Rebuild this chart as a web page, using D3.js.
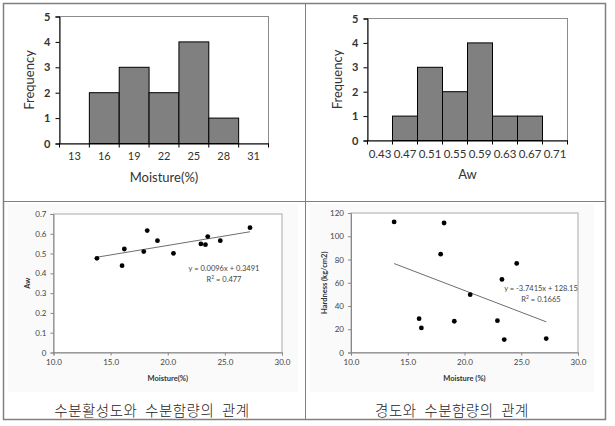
<!DOCTYPE html>
<html><head><meta charset="utf-8">
<script src="https://cdn.jsdelivr.net/npm/d3@7"></script>
<style>
html,body{margin:0;padding:0;background:#fff;}
svg{display:block;}
</style></head>
<body>
<svg id="c" width="615" height="426"></svg>
<script>
// ---------- data ----------
const moistureBins = ["13","16","19","22","25","28","31"];
const moistureFreq = [0,2,3,2,4,1,0];
const awBins = ["0.43","0.47","0.51","0.55","0.59","0.63","0.67","0.71"];
const awFreq = [0,1,3,2,4,1,1,0];
const freqTicks = [0,1,2,3,4,5];

const moisture = [13.8,16.0,16.2,17.9,18.2,19.1,20.5,22.9,23.3,23.5,24.6,27.2];
const aw       = [0.476,0.439,0.523,0.510,0.616,0.565,0.501,0.549,0.545,0.586,0.565,0.631];
const hardness = [112.3,29.1,21.1,84.6,111.4,26.9,49.7,27.4,62.9,11.1,76.6,12.0];
const moistureTicks = [10,15,20,25,30];
const awTicks = [0,0.1,0.2,0.3,0.4,0.5,0.6,0.7];
const hardTicks = [0,20,40,60,80,100,120];
const awFit = [0.0096, 0.3491];      // slope, intercept
const hardFit = [-3.7415, 128.15];
const awFitText = ["y = 0.0096x + 0.3491", "0.477"];
const hardFitText = ["y = -3.7415x + 128.15", "0.1665"];
const captions = ["수분활성도와 수분함량의 관계", "경도와 수분함량의 관계"];

const svg = d3.select("#c");
const LATIN = "Lato, 'Open Sans', 'Liberation Sans', sans-serif";

// ---------- table grid ----------
svg.append("rect").attr("x",8).attr("y",204).attr("width",290).attr("height",188).attr("fill","#fafafa");
svg.append("rect").attr("x",310).attr("y",204).attr("width",284).attr("height",188).attr("fill","#fafafa");
const grid = svg.append("g").attr("stroke","#808080").attr("fill","none");
grid.append("rect").attr("x",3.5).attr("y",3.5).attr("width",602).attr("height",416).attr("stroke-width",1.5);
grid.append("line").attr("x1",305.5).attr("x2",305.5).attr("y1",3).attr("y2",419);
grid.append("line").attr("x1",3).attr("x2",605).attr("y1",201.5).attr("y2",201.5);

// ---------- histogram ----------
function histogram(cats, vals, box, xTitle, labelSize) {
  const g = svg.append("g");
  const x = d3.scaleBand().domain(cats).range([box.x0, box.x1]).padding(0);
  const y = d3.scaleLinear().domain([0,5]).range([box.y1, box.y0]);
  g.append("rect").attr("x",box.x0).attr("y",box.y0).attr("width",box.x1-box.x0).attr("height",box.y1-box.y0)
    .attr("fill","none").attr("stroke","#8c8c8c").attr("stroke-width",1);
  g.selectAll("rect.bar").data(cats.map((c,i)=>({c,v:vals[i]})).filter(d=>d.v>0)).join("rect")
    .attr("class","bar")
    .attr("x",d=>x(d.c)).attr("width",x.bandwidth())
    .attr("y",d=>y(d.v)).attr("height",d=>y(0)-y(d.v))
    .attr("fill","#808080").attr("stroke","#000").attr("stroke-width",1);
  const ya = g.append("g").attr("transform",`translate(${box.x0},0)`)
    .call(d3.axisLeft(y).tickValues(freqTicks).tickFormat(d3.format("d")).tickSize(4).tickPadding(5));
  ya.select(".domain").attr("stroke","#000");
  ya.selectAll("text").attr("font-family",LATIN).attr("font-size",11).attr("font-weight","bold").attr("fill","#333");
  const xa = g.append("g").attr("transform",`translate(0,${box.y1})`)
    .call(d3.axisBottom(x).tickSize(0).tickPadding(9));
  xa.select(".domain").attr("stroke","#000");
  xa.selectAll("text").attr("font-family",LATIN).attr("font-size",labelSize).attr("fill","#333");
  const bounds = cats.map(c=>x(c)).concat([box.x1]);
  g.selectAll("line.bt").data(bounds).join("line").attr("class","bt")
    .attr("x1",d=>d).attr("x2",d=>d).attr("y1",box.y1).attr("y2",box.y1+4).attr("stroke","#000");
  g.append("text").attr("transform",`translate(${box.x0-26},${(box.y0+box.y1)/2}) rotate(-90)`)
    .attr("text-anchor","middle").attr("font-family",LATIN).attr("font-size",13).attr("fill","#333").text("Frequency");
  g.append("text").attr("x",(box.x0+box.x1)/2).attr("y",box.y1+38)
    .attr("text-anchor","middle").attr("font-family",LATIN).attr("font-size",13).attr("fill","#333").text(xTitle);
}
histogram(moistureBins, moistureFreq, {x0:59.5,x1:268.5,y0:16.5,y1:143.5}, "Moisture(%)", 11);
histogram(awBins, awFreq, {x0:367.5,x1:567.5,y0:18.5,y1:140.5}, "Aw", 11.5);

// ---------- scatter ----------
function scatter(xs, ys, box, yDomain, yTicks, yFmt, yTitle, xTitle, fit, fitText, eqPos) {
  const g = svg.append("g");
  const x = d3.scaleLinear().domain([10,30]).range([box.x0, box.x1]);
  const y = d3.scaleLinear().domain(yDomain).range([box.y1, box.y0]);
  g.append("rect").attr("x",box.x0).attr("y",box.y0).attr("width",box.x1-box.x0).attr("height",box.y1-box.y0)
    .attr("fill","#fff").attr("stroke","#aaa").attr("stroke-width",1);
  const ya = g.append("g").attr("transform",`translate(${box.x0},0)`)
    .call(d3.axisLeft(y).tickValues(yTicks).tickFormat(yFmt).tickSize(3).tickPadding(4));
  ya.select(".domain").attr("stroke","#888");
  ya.selectAll("line").attr("stroke","#888");
  ya.selectAll("text").attr("font-family",LATIN).attr("font-size",8).attr("fill","#444");
  const xa = g.append("g").attr("transform",`translate(0,${box.y1})`)
    .call(d3.axisBottom(x).tickValues(moistureTicks).tickFormat(d3.format(".1f")).tickSize(3).tickPadding(4));
  xa.select(".domain").attr("stroke","#888");
  xa.selectAll("line").attr("stroke","#888");
  xa.selectAll("text").attr("font-family",LATIN).attr("font-size",8).attr("fill","#444");
  const xMin = d3.min(xs), xMax = d3.max(xs);
  g.append("line").attr("x1",x(xMin)).attr("y1",y(fit[0]*xMin+fit[1]))
    .attr("x2",x(xMax)).attr("y2",y(fit[0]*xMax+fit[1]))
    .attr("stroke","#6e6e6e").attr("stroke-width",1);
  g.selectAll("circle").data(xs.map((v,i)=>[v,ys[i]])).join("circle")
    .attr("cx",d=>x(d[0])).attr("cy",d=>y(d[1])).attr("r",2.4).attr("fill","#000");
  g.append("text").attr("x",eqPos[0]).attr("y",eqPos[1]).attr("text-anchor","middle")
    .attr("font-family",LATIN).attr("font-size",7.5).attr("fill","#444").text(fitText[0]);
  const r = g.append("text").attr("x",eqPos[0]).attr("y",eqPos[1]+11).attr("text-anchor","middle")
    .attr("font-family",LATIN).attr("font-size",7.5).attr("fill","#444");
  r.append("tspan").text("R");
  r.append("tspan").attr("dy",-3).attr("font-size",5).text("2");
  r.append("tspan").attr("dy",3).text(" = " + fitText[1]);
  g.append("text").attr("transform",`translate(${box.x0-24},${(box.y0+box.y1)/2}) rotate(-90)`)
    .attr("text-anchor","middle").attr("font-family",LATIN).attr("font-size",7.5).attr("font-weight","bold")
    .attr("fill","#333").text(yTitle);
  g.append("text").attr("x",(box.x0+box.x1)/2).attr("y",box.y1+28)
    .attr("text-anchor","middle").attr("font-family",LATIN).attr("font-size",7.5).attr("font-weight","bold")
    .attr("fill","#333").text(xTitle);
}
scatter(moisture, aw, {x0:53.5,x1:282,y0:214,y1:352.5}, [0,0.7], awTicks,
  d=> d===0 ? "0" : d3.format(".1f")(d), "Aw", "Moisture(%)", awFit, awFitText, [224,271]);
scatter(moisture, hardness, {x0:351,x1:578,y0:213,y1:352.5}, [0,120], hardTicks,
  d3.format("d"), "Hardness (kg/cm2)", "Moisture  (%)", hardFit, hardFitText, [541,291]);

// ---------- captions ----------
svg.selectAll("text.cap").data(captions).join("text").attr("class","cap")
  .attr("x",(d,i)=> i===0 ? 152 : 452).attr("y",416)
  .attr("text-anchor","middle").attr("font-family","'Noto Sans CJK KR', sans-serif")
  .attr("font-size",14.5).attr("font-weight",300).attr("fill","#222")
  .attr("letter-spacing",0.5).attr("word-spacing",4)
  .style("white-space","pre")
  .text(d=>d);
</script>
</body></html>
